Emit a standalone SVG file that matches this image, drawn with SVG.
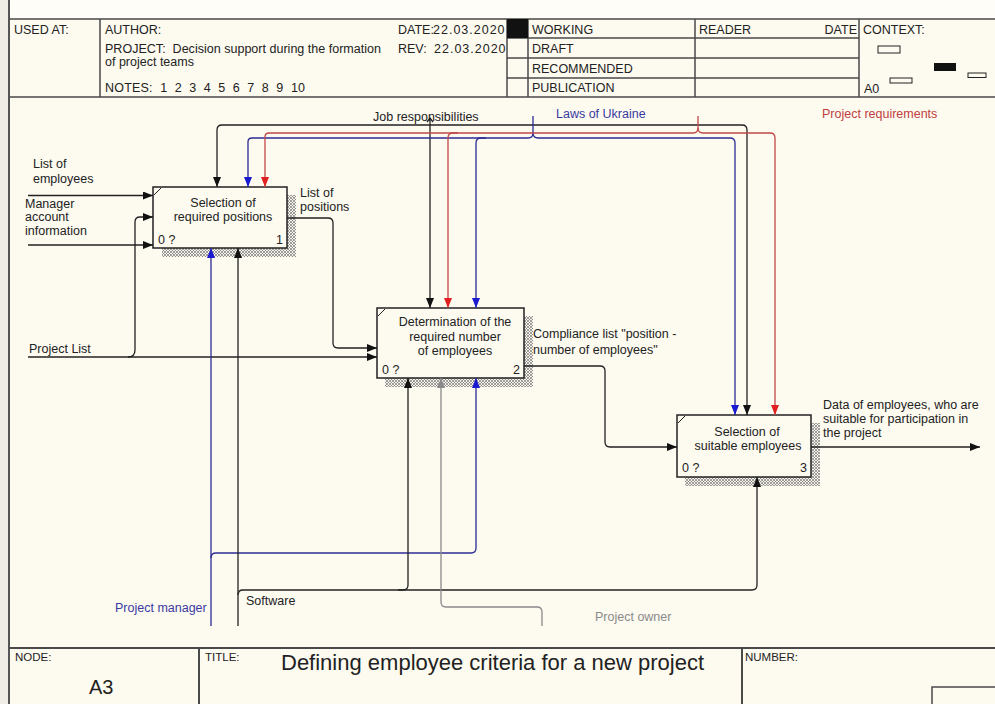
<svg xmlns="http://www.w3.org/2000/svg" width="995" height="704" viewBox="0 0 995 704">
  <defs>
    <style>
      text { font-family: "Liberation Sans", Arial, sans-serif; font-size: 12.5px; fill: #222; }
      .hdr { stroke: #4a4a4a; stroke-width: 1.5; fill: none; }
      .box { fill: #fdfaf0; stroke: #222; stroke-width: 1.5; }
      .shadow { fill: url(#hatch); stroke: none; }
      .tick { stroke: #222; stroke-width: 1; fill: none; }
      .k { stroke: #222; stroke-width: 1.3; fill: none; }
      .b { stroke: #2c2c94; stroke-width: 1.3; fill: none; }
      .r { stroke: #c04848; stroke-width: 1.3; fill: none; }
      .g { stroke: #8a8a8a; stroke-width: 1.3; fill: none; }
      .ak { marker-end: url(#arrK); }
      .ab { marker-end: url(#arrB); }
      .ar { marker-end: url(#arrR); }
      .ag { marker-end: url(#arrG); }
      .mid { text-anchor: middle; }
      .blue { fill: #3a3aa0; }
      .red { fill: #c04040; }
      .grey { fill: #8a8a8a; }
      .date { letter-spacing: 1px; }
    </style>
    <pattern id="hatch" width="3" height="3" patternUnits="userSpaceOnUse">
      <rect width="3" height="3" fill="#f6f3ea"/>
      <path d="M0,0 L3,3 M3,0 L0,3" stroke="#7a7a7a" stroke-width="0.7"/>
    </pattern>
    <marker id="arrK" markerUnits="userSpaceOnUse" markerWidth="10" markerHeight="8" refX="10" refY="4" orient="auto">
      <path d="M0,0 L10,4 L0,8 Z" fill="#111"/>
    </marker>
    <marker id="arrB" markerUnits="userSpaceOnUse" markerWidth="10" markerHeight="8" refX="10" refY="4" orient="auto">
      <path d="M0,0 L10,4 L0,8 Z" fill="#1a1ad0"/>
    </marker>
    <marker id="arrR" markerUnits="userSpaceOnUse" markerWidth="10" markerHeight="8" refX="10" refY="4" orient="auto">
      <path d="M0,0 L10,4 L0,8 Z" fill="#e02020"/>
    </marker>
    <marker id="arrG" markerUnits="userSpaceOnUse" markerWidth="10" markerHeight="8" refX="10" refY="4" orient="auto">
      <path d="M0,0 L10,4 L0,8 Z" fill="#8a8a8a"/>
    </marker>
    <clipPath id="dateClip">
      <rect x="390" y="19" width="117" height="40"/>
    </clipPath>
  </defs>

  <!-- page -->
  <rect x="0" y="0" width="995" height="704" fill="#fdfaf0"/>
  <rect x="0" y="0" width="995" height="18" fill="#fefdf8"/>
  <rect x="0" y="0" width="8" height="704" fill="#efede6"/>
  <line x1="9" y1="0" x2="9" y2="704" stroke="#555" stroke-width="2"/>

  <!-- header frame -->
  <g id="header">
    <path class="hdr" d="M9,19 L995,19 M9,97 L995,97 M100,19 L100,97 M507,19 L507,97 M528,19 L528,97 M695,19 L695,97 M859,19 L859,97 M507,38 L859,38 M507,58 L859,58 M507,78 L859,78"/>
    <rect x="507" y="19" width="21" height="19" fill="#111"/>
    <text x="14" y="34">USED AT:</text>
    <text x="105" y="34">AUTHOR:</text>
    <text x="105" y="53" xml:space="preserve" textLength="276" lengthAdjust="spacingAndGlyphs">PROJECT:  Decision support during the formation</text>
    <text x="105" y="66">of project teams</text>
    <text x="105" y="92" xml:space="preserve" textLength="200">NOTES:  1  2  3  4  5  6  7  8  9  10</text>
    <g clip-path="url(#dateClip)">
      <text x="398" y="34">DATE:</text>
      <text class="date" x="433" y="34">22.03.2020</text>
      <text x="398" y="53">REV:</text>
      <text class="date" x="434" y="53">22.03.2020</text>
    </g>
    <text x="532" y="34">WORKING</text>
    <text x="532" y="53">DRAFT</text>
    <text x="532" y="73">RECOMMENDED</text>
    <text x="532" y="92">PUBLICATION</text>
    <text x="699" y="34">READER</text>
    <text x="857" y="34" text-anchor="end">DATE</text>
    <text x="863" y="34">CONTEXT:</text>
    <text x="864" y="93">A0</text>
    <rect x="878" y="46" width="22" height="7" fill="none" stroke="#222" stroke-width="1"/>
    <rect x="934" y="63" width="22" height="8" fill="#111"/>
    <rect x="968" y="73" width="18" height="4.5" fill="none" stroke="#222" stroke-width="1"/>
    <rect x="890" y="78" width="22" height="5" fill="none" stroke="#222" stroke-width="1"/>
  </g>

  <!-- footer frame -->
  <g id="footer">
    <path d="M9,648 L995,648 M199,648 L199,704 M742,648 L742,704" stroke="#4a4a4a" stroke-width="2" fill="none"/>
    <rect x="932" y="687" width="70" height="30" fill="none" stroke="#4a4a4a" stroke-width="1.5"/>
    <text x="15" y="661" style="font-size:11.5px">NODE:</text>
    <text x="89" y="694" style="font-size:20px">A3</text>
    <text x="205" y="661" style="font-size:11.5px">TITLE:</text>
    <text x="281" y="670" style="font-size:22px">Defining employee criteria for a new project</text>
    <text x="745" y="661" style="font-size:11.5px">NUMBER:</text>
  </g>

  <!-- activity boxes -->
  <g id="box1">
    <path class="shadow" d="M287,195 L296,195 L296,257 L162,257 L162,248 L287,248 Z"/>
    <rect class="box" x="153" y="187" width="134" height="61"/>
    <path class="tick" d="M154,195 L161,188"/>
    <text class="mid" x="223" y="207">Selection of</text>
    <text class="mid" x="223" y="221">required positions</text>
    <text x="158" y="244">0 ?</text>
    <text x="283" y="244" text-anchor="end">1</text>
  </g>
  <g id="box2">
    <path class="shadow" d="M524,316 L533,316 L533,387 L385,387 L385,378 L524,378 Z"/>
    <rect class="box" x="377" y="308" width="147" height="70"/>
    <path class="tick" d="M378,316 L385,309"/>
    <text class="mid" x="455" y="326">Determination of the</text>
    <text class="mid" x="455" y="341">required number</text>
    <text class="mid" x="455" y="355">of employees</text>
    <text x="382" y="374">0 ?</text>
    <text x="520" y="374" text-anchor="end">2</text>
  </g>
  <g id="box3">
    <path class="shadow" d="M811,423 L820,423 L820,486 L685,486 L685,477 L811,477 Z"/>
    <rect class="box" x="677" y="415" width="134" height="62"/>
    <path class="tick" d="M678,423 L685,416"/>
    <text class="mid" x="747" y="436">Selection of</text>
    <text class="mid" x="748" y="450">suitable employees</text>
    <text x="682" y="472">0 ?</text>
    <text x="807" y="472" text-anchor="end">3</text>
  </g>

  <!-- arrows -->
  <g id="connectors">
    <!-- inputs -->
    <path class="k ak" d="M28,195.5 L153,195.5"/>
    <path class="k ak" d="M28,245 L153,245"/>
    <path class="k ak" d="M28,357 L377,357"/>
    <path class="k ak" d="M128,357 Q135,357 135,350 L135,222 Q135,217 140,217 L153,217"/>
    <!-- list of positions -->
    <path class="k ak" d="M287,218 L328,218 Q333,218 333,223 L333,343 Q333,348 338,348 L377,348"/>
    <!-- compliance list -->
    <path class="k ak" d="M524,366 L600,366 Q605,366 605,371 L605,442 Q605,447 610,447 L677,447"/>
    <!-- output -->
    <path class="k ak" d="M811,447 L980,447"/>

    <!-- job responsibilities -->
    <path class="k" d="M427,122 L430,118 L433,122"/>
    <path class="k ak" d="M430,118 L430,308"/>
    <path class="k ak" d="M430,125 L222,125 Q217,125 217,130 L217,187"/>
    <path class="k ak" d="M430,125 L742,125 Q747,125 747,130 L747,415"/>

    <!-- laws of Ukraine -->
    <path class="b" d="M533,116 L533,133"/>
    <path class="b ab" d="M533,133 Q533,138 528,138 L252,138 Q248,138 248,142 L248,187"/>
    <path class="b ab" d="M533,133 Q533,138 538,138 L730,138 Q735,138 735,143 L735,415"/>
    <path class="b ab" d="M486,138 L481,138 Q476,138 476,143 L476,308"/>

    <!-- project requirements -->
    <path class="r" d="M698,116 L698,128"/>
    <path class="r ar" d="M698,128 Q698,133 693,133 L269,133 Q265,133 265,137 L265,187"/>
    <path class="r ar" d="M698,128 Q698,133 703,133 L770,133 Q775,133 775,138 L775,415"/>
    <path class="r ar" d="M458,133 L453,133 Q448,133 448,138 L448,308"/>

    <!-- project manager -->
    <path class="b ab" d="M211,626 L211,248"/>
    <path class="b ab" d="M211,558 Q211,553 216,553 L471,553 Q476,553 476,548 L476,378"/>

    <!-- software -->
    <path class="k ak" d="M238,626 L238,248"/>
    <path class="k ak" d="M238,595 Q238,590 243,590 L752,590 Q757,590 757,585 L757,477"/>
    <path class="k ak" d="M398,590 L403,590 Q408,590 408,585 L408,378"/>

    <!-- project owner -->
    <path class="g ag" d="M542,626 L542,612 Q542,607 537,607 L446,607 Q441,607 441,602 L441,378"/>
  </g>

  <!-- arrow labels -->
  <g id="labels">
    <text x="33" y="168">List of</text>
    <text x="33" y="183">employees</text>
    <text x="25" y="208">Manager</text>
    <text x="25" y="221">account</text>
    <text x="25" y="235">information</text>
    <text x="300" y="197">List of</text>
    <text x="300" y="211">positions</text>
    <text x="29" y="353">Project List</text>
    <text x="373" y="121">Job responsibilities</text>
    <text class="blue" x="556" y="118">Laws of Ukraine</text>
    <text class="red" x="822" y="118">Project requirements</text>
    <text x="533" y="338">Compliance list "position -</text>
    <text x="533" y="354">number of employees"</text>
    <text x="823" y="409">Data of employees, who are</text>
    <text x="823" y="423">suitable for participation in</text>
    <text x="823" y="437">the project</text>
    <text class="blue" x="115" y="612">Project manager</text>
    <text x="246" y="605">Software</text>
    <text class="grey" x="595" y="621">Project owner</text>
  </g>
</svg>
